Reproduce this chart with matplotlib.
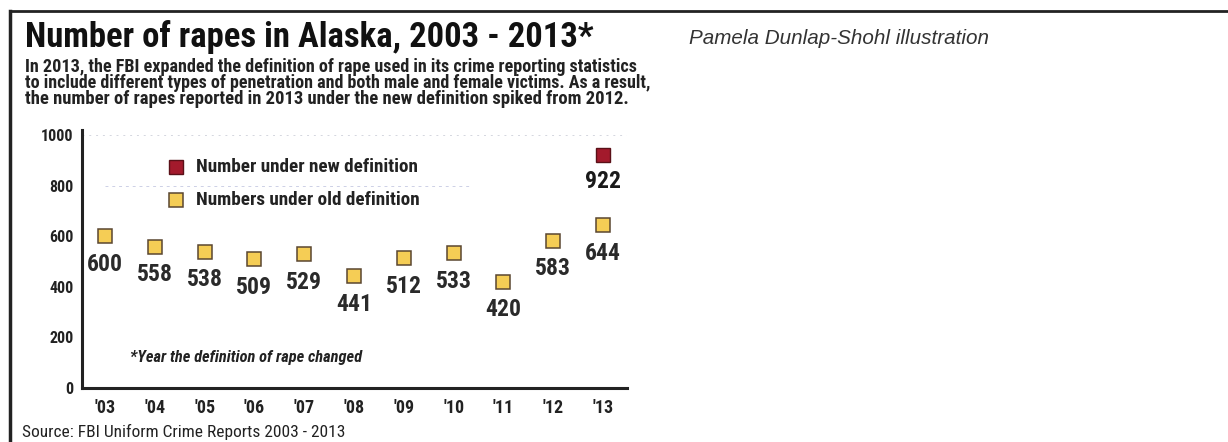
import matplotlib
matplotlib.use('Agg')
import matplotlib.pyplot as plt
from matplotlib import font_manager
from matplotlib.lines import Line2D

# 数据
years = ["'03", "'04", "'05", "'06", "'07", "'08", "'09", "'10", "'11", "'12", "'13"]
old_def = [600, 558, 538, 509, 529, 441, 512, 533, 420, 583, 644]
new_def_year = "'13"
new_def_value = 922
y_ticks = [0, 200, 400, 600, 800, 1000]

title = "Number of rapes in Alaska, 2003 - 2013*"
subtitle = [
    "In 2013, the FBI expanded the definition of rape used in its crime reporting statistics",
    "to include different types of penetration and both male and female victims. As a result,",
    "the number of rapes reported in 2013 under the new definition spiked from 2012.",
]
legend_new = "Number under new definition"
legend_old = "Numbers under old definition"
footnote = "*Year the definition of rape changed"
source = "Source: FBI Uniform Crime Reports 2003 - 2013"
credit = "Pamela Dunlap-Shohl illustration"

# 颜色
red = '#a31a2c'
yellow = '#f5cd55'
edge = '#5a4630'
ink = '#222222'

# 字体：优先窄体
names = {f.name for f in font_manager.fontManager.ttflist}


def pick(*cands):
    for c in cands:
        if c in names:
            return c
    return 'DejaVu Sans'


narrow = pick('Roboto Condensed', 'Liberation Sans Narrow', 'Roboto', 'Liberation Sans')
heavy = pick('Roboto Condensed', 'Roboto', 'Liberation Sans Narrow', 'Liberation Sans')
arial = pick('Liberation Sans', 'DejaVu Sans')

W, H = 1228, 442
fig = plt.figure(figsize=(W / 100, H / 100), dpi=100)
fig.patch.set_facecolor('white')


def fx(px):
    return px / W


def fy(py):
    return 1 - py / H


# 外框线
fig.add_artist(Line2D([fx(10), 1], [fy(11), fy(11)], color=ink, lw=2))
fig.add_artist(Line2D([fx(10), fx(10)], [fy(11), 0], color=ink, lw=2.5))

texts_to_fit = []

t = fig.text(fx(25), fy(37), title, family=heavy, weight='black', fontsize=20,
             color='#111111', va='center', ha='left')
texts_to_fit.append((t, 567))

for line, yy, w in zip(subtitle, [67, 83, 99], [610, 623, 603]):
    t = fig.text(fx(25), fy(yy), line, family=narrow, weight='bold', fontsize=11,
                 color=ink, va='center', ha='left')
    texts_to_fit.append((t, w))

t = fig.text(fx(689), fy(39), credit, family=arial, style='italic', fontsize=13,
             color='#333333', va='center', ha='left')
texts_to_fit.append((t, 298))

t = fig.text(fx(22), fy(432), source, family=narrow, fontsize=10,
             color=ink, va='center', ha='left')
texts_to_fit.append((t, 320))

# 坐标轴
ax = fig.add_axes([fx(82), fy(388), fx(627) - fx(82), fy(130) - fy(388)])
x = list(range(len(years)))
ax.set_xlim(-0.462, 10.48)
ax.set_ylim(0, 1020)
for s in ['top', 'right']:
    ax.spines[s].set_visible(False)
for s in ['left', 'bottom']:
    ax.spines[s].set_color(ink)
    ax.spines[s].set_linewidth(2.2)
ax.set_xticks(x)
ax.set_xticklabels(years, family=narrow, weight='bold', fontsize=13, color=ink)
ax.set_yticks(y_ticks)
ax.set_yticklabels([str(v) for v in y_ticks], family=narrow, weight='bold',
                   fontsize=11.5, color=ink)
ax.tick_params(length=0)
ax.tick_params(axis='x', pad=8)
ax.tick_params(axis='y', pad=6)

# 淡淡的虚线网格
ax.axhline(1000, color='#a0a4b8', lw=0.7, ls=(0, (2, 5)), alpha=0.45, zorder=0)
ax.plot([0.0, 7.3], [800, 800], color='#9098c8', lw=0.7, ls=(0, (3, 4)),
        alpha=0.45, zorder=0)

# 旧定义
ax.plot(x, old_def, ls='none', marker='s', markersize=9.5, markerfacecolor=yellow,
        markeredgecolor=edge, markeredgewidth=1.1, zorder=3)
for xi, v in zip(x, old_def):
    ax.annotate(str(v), (xi, v), xytext=(0, -28), textcoords='offset pixels',
                ha='center', va='center', family=narrow, weight='bold',
                fontsize=17, color='#2a2a2a')

# 新定义
xn = years.index(new_def_year)
ax.plot([xn], [new_def_value], ls='none', marker='s', markersize=9.5,
        markerfacecolor=red, markeredgecolor='#5a1018', markeredgewidth=1, zorder=3)
ax.annotate(str(new_def_value), (xn, new_def_value), xytext=(0, -27),
            textcoords='offset pixels', ha='center', va='center', family=narrow,
            weight='bold', fontsize=17, color='#1a1a1a')

# 图例
ax.plot([1.43], [873], ls='none', marker='s', markersize=9.5, markerfacecolor=red,
        markeredgecolor='#5a1018', markeredgewidth=1)
ax.plot([1.43], [743], ls='none', marker='s', markersize=9.5, markerfacecolor=yellow,
        markeredgecolor=edge, markeredgewidth=1.1)
t = ax.text(1.83, 873, legend_new, family=narrow, weight='bold', fontsize=13,
            color=ink, va='center', ha='left')
texts_to_fit.append((t, 221))
t = ax.text(1.83, 743, legend_old, family=narrow, weight='bold', fontsize=13,
            color=ink, va='center', ha='left')
texts_to_fit.append((t, 222))

t = ax.text(0.5, 119, footnote, family=narrow, weight='bold', style='italic',
            fontsize=10, color=ink, va='center', ha='left')
texts_to_fit.append((t, 232))

# 按参考宽度调整字号
fig.canvas.draw()
r = fig.canvas.get_renderer()
for t, w in texts_to_fit:
    cur = t.get_window_extent(r).width
    t.set_fontsize(t.get_fontsize() * w / cur)

fig.savefig('out.png', dpi=100, facecolor='white')
